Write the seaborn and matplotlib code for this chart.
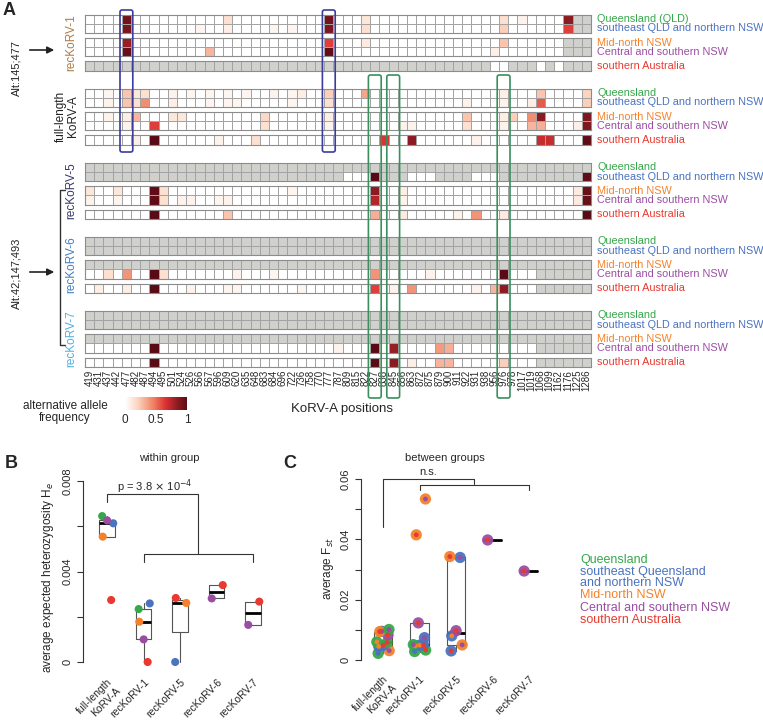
import numpy as np
import pandas as pd
import matplotlib
matplotlib.use("Agg")
import matplotlib.pyplot as plt
import seaborn as sns
from matplotlib.colors import LinearSegmentedColormap, ListedColormap, Normalize
from matplotlib.cm import ScalarMappable
from matplotlib.patches import FancyBboxPatch

sns.set_style("white")
plt.rcParams["font.family"] = ["Liberation Sans", "DejaVu Sans"]

# ------------------------------------------------------------------
# data
# ------------------------------------------------------------------
positions = [419, 431, 437, 442, 477, 482, 487, 494, 495, 501,
             524, 526, 566, 567, 596, 609, 620, 635, 648, 683,
             684, 696, 722, 736, 758, 770, 777, 787, 809, 815,
             822, 827, 838, 845, 856, 863, 872, 875, 879, 900,
             911, 922, 931, 938, 956, 976, 978, 1017, 1019, 1068,
             1099, 1162, 1176, 1225, 1286]

region_codes = ["Q", "S", "M", "C", "A"]
region_colors = ["#36a84b", "#4a73c0", "#f5822a", "#9a4ea2", "#e83a30"]
region_labels = ["Queensland", "southeast QLD and northern NSW", "Mid-north NSW",
                 "Central and southern NSW", "southern Australia"]

groups = ["recKoRV-1", "full-length\nKoRV-A", "recKoRV-5", "recKoRV-6", "recKoRV-7"]
group_colors = ["#b07a45", "#222222", "#35356e", "#3f7fc8", "#4fb0e0"]

ALL = [(0, 54)]

# alternative allele frequency per row (Q, S, M, C, A): {column: freq}
rec1_freq = [
    {4: 0.92, 15: 0.15, 26: 0.92, 30: 0.12, 45: 0.15, 47: 0.06, 52: 0.85},
    {4: 0.9, 12: 0.05, 15: 0.08, 20: 0.05, 22: 0.05, 26: 0.88, 30: 0.15, 45: 0.22, 52: 0.62},
    {4: 0.82, 26: 0.62, 30: 0.1, 45: 0.25},
    {4: 0.95, 13: 0.3, 26: 0.97, 44: 0.08},
    {},
]
rec1_missing = [[(53, 54)], [(53, 54)], [(52, 54)], [(52, 54)],
                [(0, 43), (46, 48), (50, 50), (52, 54)]]

full_freq = [
    {2: 0.05, 4: 0.25, 5: 0.12, 6: 0.15, 9: 0.06, 11: 0.05, 13: 0.05, 15: 0.05, 17: 0.05,
     20: 0.06, 22: 0.05, 23: 0.08, 26: 0.22, 30: 0.35, 45: 0.08, 49: 0.25, 54: 0.2},
    {2: 0.06, 4: 0.25, 5: 0.15, 6: 0.42, 9: 0.08, 13: 0.05, 15: 0.05, 16: 0.05, 22: 0.05,
     26: 0.15, 41: 0.06, 45: 0.06, 48: 0.08, 49: 0.55, 54: 0.22},
    {2: 0.06, 4: 0.08, 5: 0.3, 9: 0.12, 10: 0.12, 19: 0.18, 26: 0.08, 41: 0.25, 45: 0.08,
     46: 0.22, 48: 0.42, 49: 0.85, 54: 0.88},
    {4: 0.06, 7: 0.62, 19: 0.15, 26: 0.06, 34: 0.06, 35: 0.06, 41: 0.15, 45: 0.06, 48: 0.3,
     49: 0.32, 53: 0.08, 54: 0.88},
    {5: 0.08, 7: 1.0, 14: 0.06, 18: 0.15, 32: 0.65, 35: 0.85, 42: 0.06, 49: 0.7, 50: 0.7, 54: 0.98},
]
full_missing = [[], [], [], [], []]

rec5_freq = [
    {},
    {31: 1.0, 54: 0.98},
    {0: 0.12, 3: 0.12, 7: 0.98, 8: 0.15, 22: 0.05, 31: 0.85, 34: 0.08, 53: 0.1, 54: 0.95},
    {0: 0.06, 3: 0.05, 7: 0.98, 8: 0.15, 10: 0.06, 11: 0.06, 14: 0.05, 15: 0.06, 31: 0.75,
     34: 0.06, 53: 0.1, 54: 0.95},
    {7: 1.0, 15: 0.25, 31: 0.32, 34: 0.1, 40: 0.06, 42: 0.4, 45: 0.1, 54: 1.0},
]
rec5_missing = [ALL, [(0, 27), (32, 34), (38, 41), (45, 53)], [], [], []]

rec6_freq = [
    {}, {}, {},
    {2: 0.15, 4: 0.4, 7: 1.0, 8: 0.15, 16: 0.06, 20: 0.05, 31: 0.4, 37: 0.06, 45: 1.0},
    {1: 0.08, 4: 0.08, 7: 1.0, 11: 0.06, 15: 0.05, 16: 0.05, 23: 0.05, 31: 0.62, 33: 0.06,
     35: 0.4, 42: 0.06, 44: 0.3, 45: 0.85},
]
rec6_missing = [ALL, ALL, ALL, [(49, 54)], [(49, 54)]]

rec7_freq = [
    {}, {}, {},
    {7: 1.0, 27: 0.06, 31: 1.0, 33: 0.82, 38: 0.38, 39: 0.32},
    {7: 1.0, 31: 1.0, 33: 0.85, 35: 0.08, 38: 0.3, 39: 0.3, 45: 0.22},
]
rec7_missing = [ALL, ALL, ALL, [(49, 54)], [(49, 54)]]

blue_boxes = [4, 26]
green_boxes = [31, 33, 45]

# panel B: average expected heterozygosity per population
box_groups = ["full-length\nKoRV-A", "recKoRV-1", "recKoRV-5", "recKoRV-6", "recKoRV-7"]
he_full = {"Q": 0.00645, "S": 0.00613, "M": 0.00554, "C": 0.00626, "A": 0.00274}
he_rec1 = {"Q": 0.00234, "S": 0.00259, "M": 0.00178, "C": 0.00100, "A": 0.0}
he_rec5 = {"S": 0.0, "M": 0.00261, "A": 0.00283}
he_rec6 = {"C": 0.00281, "A": 0.00340}
he_rec7 = {"C": 0.00164, "A": 0.00267}

# panel C: average Fst between population pairs (outer, inner, value)
fst_full = [("Q", "S", 0.0022), ("M", "C", 0.0031), ("S", "M", 0.0045), ("S", "A", 0.0048),
            ("Q", "A", 0.0058), ("Q", "M", 0.0060), ("C", "A", 0.0083), ("S", "C", 0.0095),
            ("M", "A", 0.0094), ("Q", "C", 0.0101)]
fst_rec1 = [("Q", "S", 0.0028), ("Q", "A", 0.0033), ("Q", "M", 0.0047), ("S", "M", 0.0049),
            ("S", "A", 0.0050), ("Q", "C", 0.0051), ("S", "C", 0.0074), ("C", "A", 0.0123),
            ("M", "A", 0.0415), ("M", "C", 0.0534)]
fst_rec5 = [("S", "A", 0.0030), ("M", "C", 0.0050), ("S", "M", 0.0080), ("C", "A", 0.0097),
            ("S", "C", 0.0340), ("M", "A", 0.0343)]
fst_rec6 = [("C", "A", 0.0398)]
fst_rec7 = [("C", "A", 0.0295)]

# ------------------------------------------------------------------
# helpers
# ------------------------------------------------------------------
W, H = 763, 724
fig = plt.figure(figsize=(W / 100, H / 100), dpi=100)


def frac(x0, y0, w, h):
    return [x0 / W, 1 - (y0 + h) / H, w / W, h / H]


def build(freq_rows, missing_rows):
    vals = np.zeros((5, len(positions)))
    miss = np.zeros((5, len(positions)), dtype=bool)
    for r, d in enumerate(freq_rows):
        for c, v in d.items():
            vals[r, c] = v
    for r, ranges in enumerate(missing_rows):
        for a, b in ranges:
            miss[r, a:b + 1] = True
    return vals, miss


def fivenum(v):
    v = np.sort(np.asarray(v, dtype=float))
    n = len(v)
    n4 = np.floor((n + 3) / 2) / 2
    d = np.array([1, n4, (n + 1) / 2, n + 1 - n4, n]) - 1
    return 0.5 * (v[np.floor(d).astype(int)] + v[np.ceil(d).astype(int)])


def box_stats(v):
    v = np.asarray(v, dtype=float)
    lo, q1, med, q3, hi = fivenum(v)
    iqr = q3 - q1
    return dict(med=med, q1=q1, q3=q3,
                whislo=v[v >= q1 - 1.5 * iqr].min(),
                whishi=v[v <= q3 + 1.5 * iqr].max(), fliers=[])


def spread(n):
    k = np.arange(n)
    return 0.17 * np.sin(2.4 * k - 0.9)


cmap = LinearSegmentedColormap.from_list(
    "aaf", [(0, "#ffffff"), (0.2, "#fcd5c0"), (0.45, "#f08466"),
            (0.65, "#dc3232"), (0.85, "#8b1a22"), (1, "#5a0a14")])
GRAY = "#d0d0cc"
GRID = "#a3a3a3"

# ------------------------------------------------------------------
# panel A: heatmaps
# ------------------------------------------------------------------
CELL = 9.2
X0 = 85
group_top = [14.5 + 74.1 * g for g in range(5)]
block_rows = [(0, 2), (2, 4), (4, 5)]
block_off = [0, 23.4, 46.8]
matrices = [build(rec1_freq, rec1_missing), build(full_freq, full_missing),
            build(rec5_freq, rec5_missing), build(rec6_freq, rec6_missing),
            build(rec7_freq, rec7_missing)]
ncol = len(positions)

last_ax = None
for g, (vals, miss) in enumerate(matrices):
    for b, (r0, r1) in enumerate(block_rows):
        ax = fig.add_axes(frac(X0, group_top[g] + block_off[b], ncol * CELL, (r1 - r0) * CELL))
        sub_v = vals[r0:r1]
        sub_m = miss[r0:r1]
        if sub_m.any():
            sns.heatmap(np.where(sub_m, 1.0, np.nan), cmap=ListedColormap([GRAY]), vmin=0, vmax=1,
                        cbar=False, linewidths=0.6, linecolor=GRID,
                        xticklabels=False, yticklabels=False, ax=ax)
        if (~sub_m).any():
            sns.heatmap(np.where(sub_m, np.nan, sub_v), cmap=cmap, vmin=0, vmax=1,
                        cbar=False, linewidths=0.6, linecolor=GRID,
                        xticklabels=False, yticklabels=False, ax=ax)
        for s in ax.spines.values():
            s.set_visible(True)
            s.set_color("#8c8c8c")
            s.set_linewidth(0.8)
        last_ax = ax

last_ax.set_xticks(np.arange(ncol) + 0.5)
last_ax.set_xticklabels([str(p) for p in positions], rotation=90, fontsize=7)
last_ax.tick_params(axis="x", length=0, pad=2)

# colorbar
cax = fig.add_axes(frac(125, 397, 62, 13))
cb = fig.colorbar(ScalarMappable(norm=Normalize(0, 1), cmap=cmap), cax=cax, orientation="horizontal")
cb.outline.set_visible(False)
cb.set_ticks([0, 0.5, 1])
cb.set_ticklabels(["0", "0.5", "1"])
cb.ax.tick_params(length=0, labelsize=8.5, pad=3)

# ------------------------------------------------------------------
# panel B
# ------------------------------------------------------------------
he_sets = [he_full, he_rec1, he_rec5, he_rec6, he_rec7]
rows = []
for i, d in enumerate(he_sets):
    offs = spread(len(d))
    for j, (code, v) in enumerate(d.items()):
        rows.append(dict(x=i + offs[j], value=v, region=code))
he_df = pd.DataFrame(rows)

axB = fig.add_axes(frac(83.3, 469.7, 191.7, 199.1))
axB.bxp([box_stats(list(d.values())) for d in he_sets], positions=range(5), widths=0.42,
        showcaps=False, showfliers=False, manage_ticks=False,
        boxprops=dict(color="#555555", lw=0.8), whiskerprops=dict(color="#555555", lw=0.8),
        medianprops=dict(color="black", lw=2))
sns.scatterplot(data=he_df, x="x", y="value", hue="region",
                palette=dict(zip(region_codes, region_colors)), s=34, edgecolor="none",
                legend=False, ax=axB, zorder=3)
axB.set_xlim(-0.65, 4.6)
axB.set_ylim(-0.0003, 0.0085)
axB.set_yticks([0, 0.004, 0.008])
axB.set_yticklabels(["0", "0.004", "0.008"], rotation=90, va="center")
axB.set_yticks([0.002, 0.006], minor=True)
axB.set_xticks(range(5))
axB.set_xticklabels(box_groups, rotation=45, ha="right", rotation_mode="anchor", fontsize=7.5)
axB.tick_params(axis="x", length=0, pad=6)
axB.tick_params(axis="y", which="both", length=4, width=0.8, color="#333333", labelsize=8,
                left=True, direction="out")
for s in ["top", "right", "bottom"]:
    axB.spines[s].set_visible(False)
axB.spines["left"].set_bounds(0, 0.008)
axB.spines["left"].set_color("#333333")
axB.spines["left"].set_linewidth(0.8)
axB.set_xlabel("")
axB.set_ylabel("average expected heterozygosity H$_e$", fontsize=8.5)
axB.yaxis.set_label_coords(-0.14, 0.46)
axB.patch.set_alpha(0)
kw = dict(color="#333333", lw=0.8, clip_on=False)
axB.plot([0, 0, 2.5, 2.5], [0.00707, 0.00743, 0.00743, 0.00477], **kw)
axB.plot([1, 1, 4, 4], [0.00442, 0.00477, 0.00477, 0.00442], **kw)
axB.text(1.3, 0.00775, r"p = 3.8 $\times$ 10$^{-4}$", fontsize=8, ha="center", va="center")

# ------------------------------------------------------------------
# panel C
# ------------------------------------------------------------------
fst_sets = [fst_full, fst_rec1, fst_rec5, fst_rec6, fst_rec7]
rows = []
for i, lst in enumerate(fst_sets):
    offs = spread(len(lst))
    for j, (outer, inner, v) in enumerate(lst):
        rows.append(dict(x=i + offs[j], value=v, outer=outer, inner=inner))
fst_df = pd.DataFrame(rows)
pal = dict(zip(region_codes, region_colors))

axC = fig.add_axes(frac(361.1, 467, 189.8, 199))
axC.bxp([box_stats([t[2] for t in lst]) for lst in fst_sets], positions=range(5), widths=0.5,
        showcaps=False, showfliers=False, manage_ticks=False,
        boxprops=dict(color="#555555", lw=0.8), whiskerprops=dict(color="#555555", lw=0.8),
        medianprops=dict(color="black", lw=2))
sns.scatterplot(data=fst_df, x="x", y="value", hue="outer", palette=pal, s=66,
                edgecolor="none", legend=False, ax=axC, zorder=3, alpha=0.95)
sns.scatterplot(data=fst_df, x="x", y="value", hue="inner", palette=pal, s=12,
                edgecolor="none", legend=False, ax=axC, zorder=4)
axC.set_xlim(-0.6, 4.6)
axC.set_ylim(-0.002, 0.064)
axC.set_yticks([0, 0.02, 0.04, 0.06])
axC.set_yticklabels(["0", "0.02", "0.04", "0.06"], rotation=90, va="center")
axC.set_yticks([0.01, 0.03, 0.05], minor=True)
axC.set_xticks(range(5))
axC.set_xticklabels(box_groups, rotation=45, ha="right", rotation_mode="anchor", fontsize=7.5)
axC.tick_params(axis="x", length=0, pad=6)
axC.tick_params(axis="y", which="both", length=4, width=0.8, color="#333333", labelsize=8,
                left=True, direction="out")
for s in ["top", "right", "bottom"]:
    axC.spines[s].set_visible(False)
axC.spines["left"].set_bounds(0, 0.06)
axC.spines["left"].set_color("#333333")
axC.spines["left"].set_linewidth(0.8)
axC.set_xlabel("")
axC.set_ylabel("average F$_{st}$", fontsize=8.5)
axC.yaxis.set_label_coords(-0.13, 0.49)
axC.patch.set_alpha(0)
axC.plot([0, 0, 2.5, 2.5], [0.044, 0.060, 0.060, 0.0583], **kw)
axC.plot([1, 1, 4, 4], [0.0564, 0.0581, 0.0581, 0.0564], **kw)
axC.text(1.25, 0.0625, "n.s.", fontsize=8, ha="center", va="center")

# ------------------------------------------------------------------
# annotation layer (pixel coordinates)
# ------------------------------------------------------------------
ov = fig.add_axes([0, 0, 1, 1])
ov.set_xlim(0, W)
ov.set_ylim(H, 0)
ov.axis("off")
ov.set_zorder(10)
ov.patch.set_alpha(0)

ov.text(3, 2, "A", fontsize=13, fontweight="bold", va="top")
ov.text(5, 455, "B", fontsize=13, fontweight="bold", va="top")
ov.text(283, 455, "C", fontsize=13, fontweight="bold", va="top")

for g in range(5):
    gt = group_top[g]
    ov.text(71 if g != 1 else 67, gt + 28, groups[g], rotation=90, ha="center", va="center",
            fontsize=8.5, color=group_colors[g], multialignment="center", linespacing=1.0)
    for r in range(5):
        b = 0 if r < 2 else (1 if r < 4 else 2)
        rr = r - block_rows[b][0]
        y = gt + block_off[b] + (rr + 0.5) * CELL
        lab = "Queensland (QLD)" if (g == 0 and r == 0) else region_labels[r]
        ov.text(597, y, lab, ha="left", va="center", fontsize=7.8, color=region_colors[r])

ov.text(16, 68, "Alt:145;477", rotation=90, ha="center", va="center", fontsize=8)
ov.annotate("", xy=(57, 50), xytext=(27, 50),
            arrowprops=dict(arrowstyle="-|>", color="#222222", lw=1.2, mutation_scale=10))
ov.text(16, 273, "Alt:42;147;493", rotation=90, ha="center", va="center", fontsize=8)
ov.annotate("", xy=(57, 272), xytext=(27, 272),
            arrowprops=dict(arrowstyle="-|>", color="#222222", lw=1.2, mutation_scale=10))
ov.plot([65, 60, 60, 65], [190, 190, 345, 345], color="#333333", lw=1)

for c in blue_boxes:
    ov.add_patch(FancyBboxPatch((X0 + c * CELL - 1.8, 10), CELL + 3.6, 142,
                                boxstyle="round,pad=0,rounding_size=2", fill=False,
                                ec="#3c3c9c", lw=1.2))
for c in green_boxes:
    ov.add_patch(FancyBboxPatch((X0 + c * CELL - 1.8, 75), CELL + 3.6, 323,
                                boxstyle="round,pad=0,rounding_size=2", fill=False,
                                ec="#3b8f5e", lw=1.2))

ov.text(65, 412, "alternative allele\nfrequency", ha="center", va="center", fontsize=8.5,
        multialignment="center", linespacing=0.95)
ov.text(342, 409, "KoRV-A positions", ha="center", va="center", fontsize=9.5)
ov.text(169, 458, "within group", ha="center", va="center", fontsize=8)
ov.text(445, 458, "between groups", ha="center", va="center", fontsize=8)

legend_y = [560, 572, 583, 595, 608, 620]
legend_txt = ["Queensland", "southeast Queensland", "and northern NSW", "Mid-north NSW",
              "Central and southern NSW", "southern Australia"]
legend_col = [region_colors[0], region_colors[1], region_colors[1], region_colors[2],
              region_colors[3], region_colors[4]]
for y, t, c in zip(legend_y, legend_txt, legend_col):
    ov.text(580, y, t, ha="left", va="center", fontsize=9, color=c)

fig.savefig("out.png", dpi=100)
